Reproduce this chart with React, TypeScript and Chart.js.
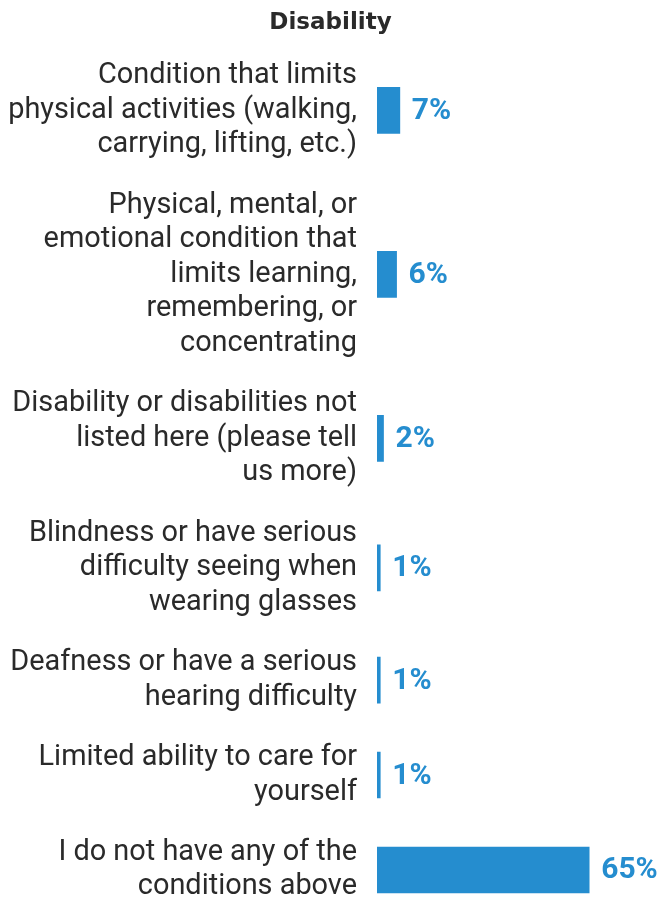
import React, { useEffect, useRef } from "react";
import { Chart, registerables } from "chart.js";

Chart.register(...registerables);

const title = "Disability";
const categories: string[][] = [
  ["Condition that limits", "physical activities (walking,", "carrying, lifting, etc.)"],
  ["Physical, mental, or", "emotional condition that", "limits learning,", "remembering, or", "concentrating"],
  ["Disability or disabilities not", "listed here (please tell", "us more)"],
  ["Blindness or have serious", "difficulty seeing when", "wearing glasses"],
  ["Deafness or have a serious", "hearing difficulty"],
  ["Limited ability to care for", "yourself"],
  ["I do not have any of the", "conditions above"],
];
const values: number[] = [7, 6, 2, 1, 1, 1, 65];

const GAP = 0.75; // gap between label blocks, in label-line units
const centers: number[] = (() => {
  const out: number[] = [];
  let acc = 0;
  for (const lines of categories) {
    const band = lines.length + GAP;
    out.push(acc + band / 2);
    acc += band;
  }
  return out;
})();

const BLUE = "#258dcf";
const TEXT = "#2a2a2a";
const LINE_H = 34.5;

export default function App() {
  const ref = useRef<HTMLCanvasElement | null>(null);
  useEffect(() => {
    if (!ref.current) return;
    const labelsPlugin = {
      id: "labelsPlugin",
      afterDatasetsDraw(chart: any) {
        const ctx = chart.ctx;
        const yScale = chart.scales.y;
        const meta = chart.getDatasetMeta(0);
        ctx.save();
        ctx.font = "28.9px Roboto";
        ctx.fillStyle = TEXT;
        ctx.textAlign = "right";
        ctx.textBaseline = "middle";
        const x = chart.chartArea.left - 20;
        categories.forEach((lines, i) => {
          const cy = yScale.getPixelForValue(centers[i]);
          lines.forEach((line, j) => {
            ctx.fillText(line, x, cy + (j - (lines.length - 1) / 2) * LINE_H);
          });
        });
        ctx.font = "bold 30px Roboto";
        ctx.fillStyle = BLUE;
        ctx.textAlign = "left";
        meta.data.forEach((el: any, i: number) => {
          ctx.fillText(values[i] + "%", el.x + 12, el.y + 1);
        });
        ctx.restore();
      },
    };
    const chart = new Chart(ref.current, {
      type: "bar",
      data: {
        datasets: [
          {
            data: values.map((v, i) => ({ x: v, y: centers[i] })),
            backgroundColor: BLUE,
            barThickness: 46,
          },
        ],
      },
      options: {
        animation: false,
        responsive: true,
        maintainAspectRatio: false,
        indexAxis: "y",
        layout: { padding: 0 },
        plugins: {
          legend: { display: false },
          tooltip: { enabled: false },
          title: {
            display: true,
            text: title,
            color: TEXT,
            font: { family: "DejaVu Sans", size: 23, weight: "bold", lineHeight: 1.2 },
            padding: { top: 9, bottom: 9 },
          },
        },
        scales: {
          x: {
            type: "linear",
            display: false,
            min: 0,
            max: 87,
          },
          y: {
            type: "linear",
            reverse: true,
            offset: false,
            min: 0,
            max: 24.86,
            grid: { display: false, drawTicks: false, offset: false },
            border: { display: false },
            ticks: { display: false },
            afterFit: (scale: any) => {
              scale.width = 377;
            },
          },
        },
      },
      plugins: [labelsPlugin],
    } as any);
    return () => chart.destroy();
  }, []);
  return (
    <div style={{ position: "absolute", left: 0, top: 0, width: 661, height: 904, background: "#fff" }}>
      <canvas ref={ref} />
    </div>
  );
}
